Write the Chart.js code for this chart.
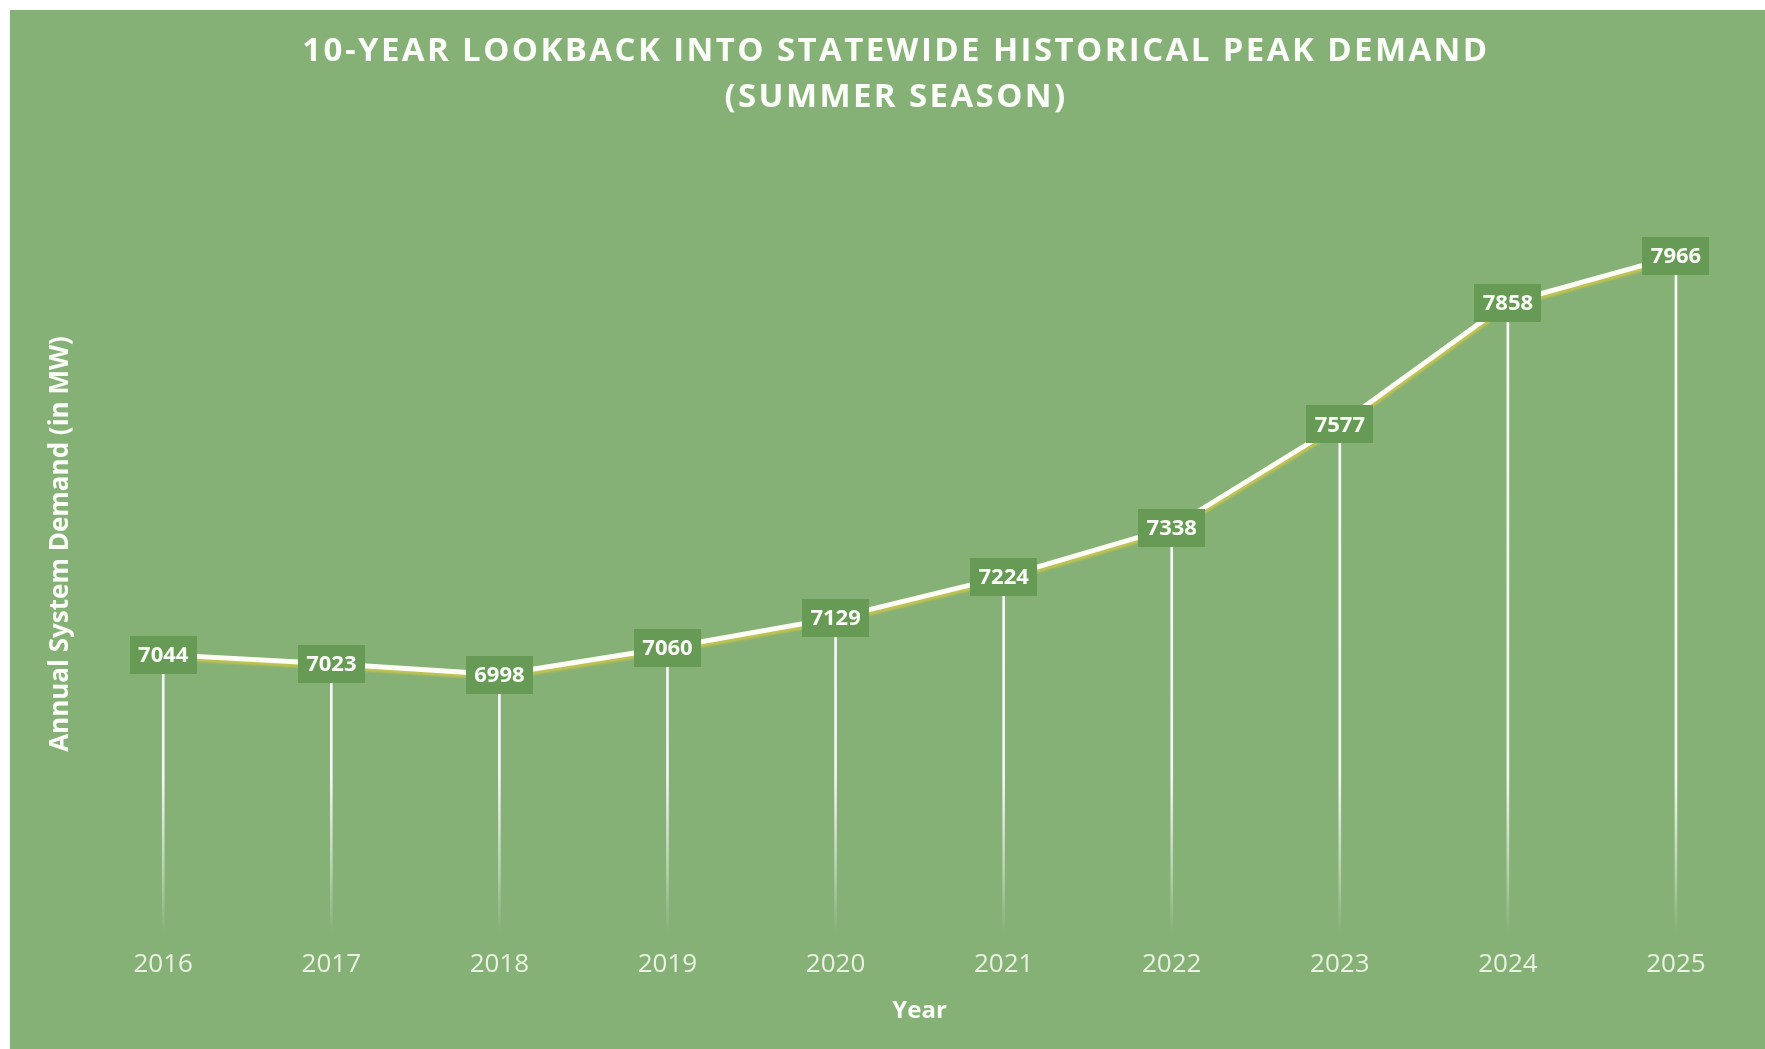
<!DOCTYPE html>
<html>
<head>
<meta charset="utf-8">
<title>10-Year Lookback - Statewide Peak Demand</title>
<script src="https://cdn.jsdelivr.net/npm/chart.js@4/dist/chart.umd.min.js"></script>
<style>
    html, body { margin: 0; padding: 0; background: #ffffff; }
    #chartBox {
        position: absolute;
        left: 10px;
        top: 10px;
        width: 1755px;
        height: 1039px;
        background: #86b176;
    }
</style>
</head>
<body>
<div id="chartBox"><canvas id="peakChart"></canvas></div>

<script>
/* ── data ── */
var years = ['2016', '2017', '2018', '2019', '2020', '2021', '2022', '2023', '2024', '2025'];
var peakDemand = [7044, 7023, 6998, 7060, 7129, 7224, 7338, 7577, 7858, 7966];
var yRange = [6400, 8200];

var titleLines = ['10-YEAR LOOKBACK INTO STATEWIDE HISTORICAL PEAK DEMAND', '(SUMMER SEASON)'];
var xTitle = 'Year';
var yTitle = 'Annual System Demand (in MW)';

/* ── palette ── */
var C = {
    text:    '#fbfdf8',
    tick:    '#eaf2e2',
    line:    '#fdfdf6',
    shadow:  'rgba(196, 196, 78, 0.9)',
    labelBg: '#679b55'
};
var FONT = "'Open Sans', 'Noto Sans', sans-serif";

/* drop lines: white, fading out only close to the base */
function dropGradient(ctx) {
    var chart = ctx.chart;
    var ca = chart.chartArea;
    if (!ca) return 'rgba(255,255,255,0.9)';
    var g = chart.ctx.createLinearGradient(0, ca.bottom, 0, ca.top);
    g.addColorStop(0, 'rgba(255,255,255,0.0)');
    g.addColorStop(0.08, 'rgba(255,255,255,0.4)');
    g.addColorStop(0.2, 'rgba(255,255,255,0.9)');
    g.addColorStop(1, 'rgba(255,255,255,0.95)');
    return g;
}

/* title is letter-spaced like the original */
var titleSpacing = {
    id: 'titleSpacing',
    afterInit: function (chart) {
        var block = chart.titleBlock;
        if (!block) return;
        var draw = block.draw.bind(block);
        block.draw = function () {
            chart.ctx.save();
            chart.ctx.letterSpacing = '2.4px';
            draw();
            chart.ctx.restore();
        };
    }
};

/* soft olive shadow under the white line */
var lineShadow = {
    id: 'lineShadow',
    beforeDatasetDraw: function (chart, args) {
        if (args.index !== 0) return;
        var ctx = chart.ctx;
        ctx.save();
        ctx.shadowColor = C.shadow;
        ctx.shadowOffsetX = 1;
        ctx.shadowOffsetY = 3;
        ctx.shadowBlur = 2;
    },
    afterDatasetDraw: function (chart, args) {
        if (args.index !== 0) return;
        chart.ctx.restore();
    }
};

/* value boxes drawn on top of each point */
var valueBoxes = {
    id: 'valueBoxes',
    afterDatasetsDraw: function (chart) {
        var ctx = chart.ctx;
        var meta = chart.getDatasetMeta(0);
        var values = chart.data.datasets[0].data;
        var w = 67, h = 38;
        ctx.save();
        ctx.font = 'bold 22px ' + FONT;
        ctx.textAlign = 'center';
        ctx.textBaseline = 'middle';
        meta.data.forEach(function (pt, i) {
            ctx.fillStyle = C.labelBg;
            ctx.fillRect(Math.round(pt.x - w / 2), Math.round(pt.y - h / 2), w, h);
            ctx.fillStyle = C.text;
            ctx.fillText(String(values[i]), pt.x, pt.y + 1);
        });
        ctx.restore();
    }
};

new Chart(document.getElementById('peakChart'), {
    data: {
        labels: years,
        datasets: [{
            type: 'line',
            data: peakDemand,
            borderColor: C.line,
            borderWidth: 5,
            pointRadius: 0,
            tension: 0,
            order: 0
        }, {
            type: 'bar',
            data: peakDemand,
            backgroundColor: dropGradient,
            barThickness: 2,
            order: 1
        }]
    },
    options: {
        responsive: true,
        maintainAspectRatio: false,
        animation: false,
        layout: { padding: { left: 22, right: 5, top: 0, bottom: 0 } },
        plugins: {
            legend: { display: false },
            tooltip: { enabled: false },
            title: {
                display: true,
                text: titleLines,
                color: C.text,
                font: { family: FONT, size: 33, weight: 'bold', lineHeight: 1.394 },
                padding: { top: 19, bottom: 34 }
            }
        },
        scales: {
            x: {
                offset: true,
                grid: { display: false, drawTicks: false },
                border: { display: false },
                ticks: {
                    color: C.tick,
                    font: { family: FONT, size: 26, lineHeight: 1.24 },
                    padding: 16,
                    maxRotation: 0,
                    autoSkip: false
                },
                title: {
                    display: true,
                    text: xTitle,
                    color: C.text,
                    font: { family: FONT, size: 24, weight: 'bold' },
                    padding: { top: 0, bottom: 23 }
                }
            },
            y: {
                min: yRange[0],
                max: yRange[1],
                grid: { display: false, drawTicks: false },
                border: { display: false },
                ticks: { display: false },
                title: {
                    display: true,
                    text: yTitle,
                    color: C.text,
                    font: { family: FONT, size: 26, weight: 'bold' },
                    padding: { top: 13, bottom: 3 }
                }
            }
        }
    },
    plugins: [titleSpacing, lineShadow, valueBoxes]
});
</script>
</body>
</html>
